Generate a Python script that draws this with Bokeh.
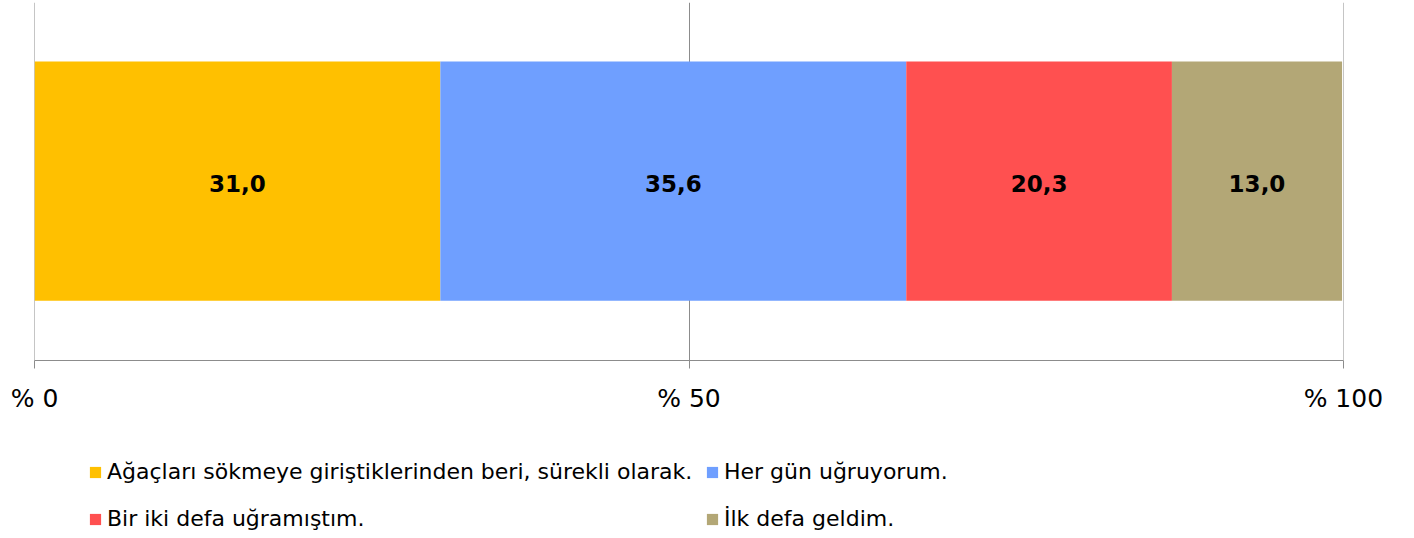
import numpy as np
from bokeh.plotting import figure
from bokeh.layouts import column
from bokeh.models import ColumnDataSource, Legend, LegendItem, FixedTicker, Range1d
from bokeh.embed import file_html
from bokeh.resources import INLINE
from bokeh.core.properties import value

categories = [
    "Ağaçları sökmeye giriştiklerinden beri, sürekli olarak.",
    "Her gün uğruyorum.",
    "Bir iki defa uğramıştım.",
    "İlk defa geldim.",
]
values = [31.0, 35.6, 20.3, 13.0]
colors = ["#FFC000", "#6F9FFF", "#FF5050", "#B3A776"]
tick_values = [0, 50, 100]
tick_labels = ["% 0", "% 50", "% 100"]

vals = np.array(values)
right = np.cumsum(vals)
left = right - vals
labels = [f"{v:.1f}".replace(".", ",") for v in values]

src = ColumnDataSource(dict(
    left=left, right=right, mid=(left + right) / 2,
    y=[0.501] * len(values), color=colors, name=categories, label=labels,
))

FONT = "DejaVu Sans"
GRAY = "#8C8C8C"
W = 1398

p = figure(width=W, height=430, x_range=Range1d(-0.01, 100.01), y_range=Range1d(0, 1),
           output_backend="svg", toolbar_location=None,
           min_border_left=34, min_border_right=W - 1343, min_border_top=2, min_border_bottom=70)
p.outline_line_color = None
p.background_fill_color = "white"

r = p.hbar(y="y", left="left", right="right", height=0.668, color="color",
           line_color=None, source=src)
p.text(x="mid", y="y", text="label", source=src, text_align="center",
       text_baseline="middle", text_font=value(FONT), text_font_style="bold",
       text_font_size="23px", text_color="black", y_offset=2)

p.yaxis.visible = False
p.ygrid.grid_line_color = None
p.xgrid.ticker = FixedTicker(ticks=tick_values)
p.xgrid.grid_line_color = GRAY
p.xgrid.grid_line_width = 1

xa = p.xaxis[0]
xa.ticker = FixedTicker(ticks=tick_values)
xa.major_label_overrides = {t: l for t, l in zip(tick_values, tick_labels)}
xa.axis_line_color = GRAY
xa.major_tick_line_color = GRAY
xa.major_tick_out = 8
xa.major_tick_in = 0
xa.minor_tick_line_color = None
xa.major_label_text_font = FONT
xa.major_label_text_font_size = "25px"
xa.major_label_text_color = "black"
xa.major_label_standoff = 15

# legend area (separate canvas so that the legend is not clipped)
LH = 101
lf = figure(width=W, height=LH, x_range=Range1d(1000, 1001), y_range=Range1d(1000, 1001),
            output_backend="svg", toolbar_location=None, min_border=0,
            x_axis_location=None, y_axis_location=None)
lf.outline_line_color = None
lf.grid.visible = False
lr = lf.hbar(y="y", left="left", right="right", height=0.5, color="color",
             line_color=None, source=src)

legend_pos = [(54, 47), (671, 47), (54, 0), (671, 0)]
for i, c in enumerate(categories):
    lg = Legend(items=[LegendItem(label=c, renderers=[lr], index=i)],
                location=legend_pos[i], orientation="horizontal",
                border_line_color=None, background_fill_alpha=0,
                label_text_font=FONT, label_text_font_size="22px", label_text_color="black",
                glyph_width=14, glyph_height=14, label_standoff=5,
                padding=0, margin=0, label_height=20)
    lf.add_layout(lg, "center")

layout = column(p, lf, spacing=0)
open("out.html", "w").write(file_html(layout, INLINE))
